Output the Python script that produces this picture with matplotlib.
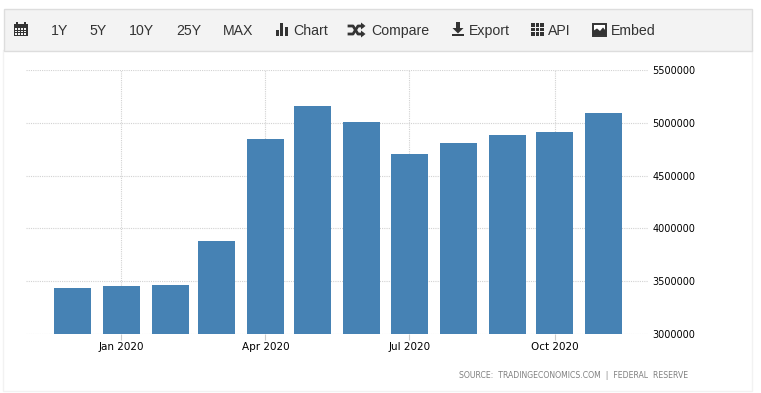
import matplotlib
matplotlib.use('Agg')
import matplotlib.pyplot as plt
import matplotlib.dates as mdates
from matplotlib.patches import Rectangle, Polygon
import datetime as dt

months = ['2019-12-01', '2020-01-01', '2020-02-01', '2020-03-01', '2020-04-01', '2020-05-01',
          '2020-06-01', '2020-07-01', '2020-08-01', '2020-09-01', '2020-10-01', '2020-11-01']
values = [3431000, 3450000, 3460000, 3885000, 4851000, 5155000,
          5003000, 4709000, 4813000, 4889000, 4917000, 5097000]
y_ticks = [3000000, 3500000, 4000000, 4500000, 5000000, 5500000]
x_ticks = ['2020-01-01', '2020-04-01', '2020-07-01', '2020-10-01']
x_labels = ['Jan 2020', 'Apr 2020', 'Jul 2020', 'Oct 2020']
menu_items = [('1Y', 51), ('5Y', 89), ('10Y', 129), ('25Y', 176), ('MAX', 222.5),
              ('Chart', 293), ('Compare', 371), ('Export', 469), ('API', 548), ('Embed', 611)]
source = 'SOURCE:  TRADINGECONOMICS.COM  |  FEDERAL  RESERVE'

W, H = 761, 393
fig = plt.figure(figsize=(W / 100, H / 100), dpi=100, facecolor='white')

# page chrome, in pixel coordinates
bg = fig.add_axes([0, 0, 1, 1])
bg.set_xlim(0, W)
bg.set_ylim(H, 0)
bg.axis('off')
bg.add_patch(Rectangle((3, 50), 749, 341, fc='white', ec='#f2f2f2', lw=1))
bg.add_patch(Rectangle((4, 9), 747.5, 41.5, fc='#f3f3f3', ec='#dddddd', lw=1))
for label, x in menu_items:
    bg.text(x, 35, label, fontsize=10.2, family='Liberation Sans', color='#333333',
            ha='left', va='baseline')
bg.text(459, 376, source, fontsize=5.6, family='DejaVu Sans', color='#808080',
        ha='left', va='center')

dark = '#333333'
# calendar icon
bg.add_patch(Rectangle((14, 23.5), 13.5, 12.5, fc=dark, ec='none'))
bg.add_patch(Rectangle((16, 22), 1.6, 2, fc=dark, ec='none'))
bg.add_patch(Rectangle((24, 22), 1.6, 2, fc=dark, ec='none'))
for i in range(4):
    for j in range(3):
        bg.add_patch(Rectangle((15 + i * 3, 28 + j * 2.6), 2.2, 1.5, fc='#f3f3f3', ec='none'))
# bar chart icon
for x0, bar_top in [(276, 30), (280, 23), (284.5, 27)]:
    bg.add_patch(Rectangle((x0, bar_top), 3.4, 36 - bar_top, fc=dark, ec='none'))
# shuffle icon
bg.plot([349, 353, 358, 362], [26, 26, 34, 34], color=dark, lw=2)
bg.plot([349, 353, 358, 362], [34, 34, 26, 26], color=dark, lw=2)
bg.add_patch(Polygon([(361, 22.5), (365.5, 26), (361, 29.5)], fc=dark, ec='none'))
bg.add_patch(Polygon([(361, 30.5), (365.5, 34), (361, 37.5)], fc=dark, ec='none'))
# download icon
bg.add_patch(Rectangle((456, 22), 4, 7, fc=dark, ec='none'))
bg.add_patch(Polygon([(452.5, 28), (463.5, 28), (458, 33.5)], fc=dark, ec='none'))
bg.add_patch(Rectangle((452, 33.5), 12, 2.7, fc=dark, ec='none'))
# grid icon
for i in range(3):
    for j in range(3):
        bg.add_patch(Rectangle((531 + i * 4.7, 23.3 + j * 4.5), 3.7, 3.6, fc=dark, ec='none'))
# picture icon
bg.add_patch(Rectangle((592.8, 23.8), 13, 11.7, fc='white', ec=dark, lw=1.4))
bg.add_patch(Polygon([(593, 35), (593, 31), (597, 28.5), (600, 31), (603, 27.5), (606, 31), (606, 35)],
                     fc=dark, ec='none'))

# chart
left, right, top, bottom = 26, 648, 70, 334
ax = fig.add_axes([left / W, 1 - bottom / H, (right - left) / W, (bottom - top) / H])
ax.patch.set_alpha(0)
dates = [dt.datetime.fromisoformat(m) for m in months]
tick_dates = [dt.datetime.fromisoformat(m) for m in x_ticks]
origin = mdates.date2num(dt.datetime(2020, 1, 1))
ax.bar(dates, values, width=23.4, color='#4682b4', zorder=3)
ax.set_xlim(origin - 60.35, origin + 332.85)
ax.set_ylim(3000000, 5500000)
ax.set_xticks(tick_dates)
ax.set_xticklabels(x_labels)
ax.set_yticks(y_ticks)
ax.set_yticklabels([str(v) for v in y_ticks])
ax.yaxis.tick_right()
ax.grid(True, color='#d2d2d2', linestyle=(0, (1, 1)), linewidth=0.8, zorder=0)
for s in ax.spines.values():
    s.set_visible(False)
ax.tick_params(axis='x', length=4, width=0.8, color='#cccccc', pad=1.5, labelsize=7.5, labelcolor='black')
ax.tick_params(axis='y', length=0, pad=3, labelsize=7.0, labelcolor='black')

fig.savefig('out.png', dpi=100)
